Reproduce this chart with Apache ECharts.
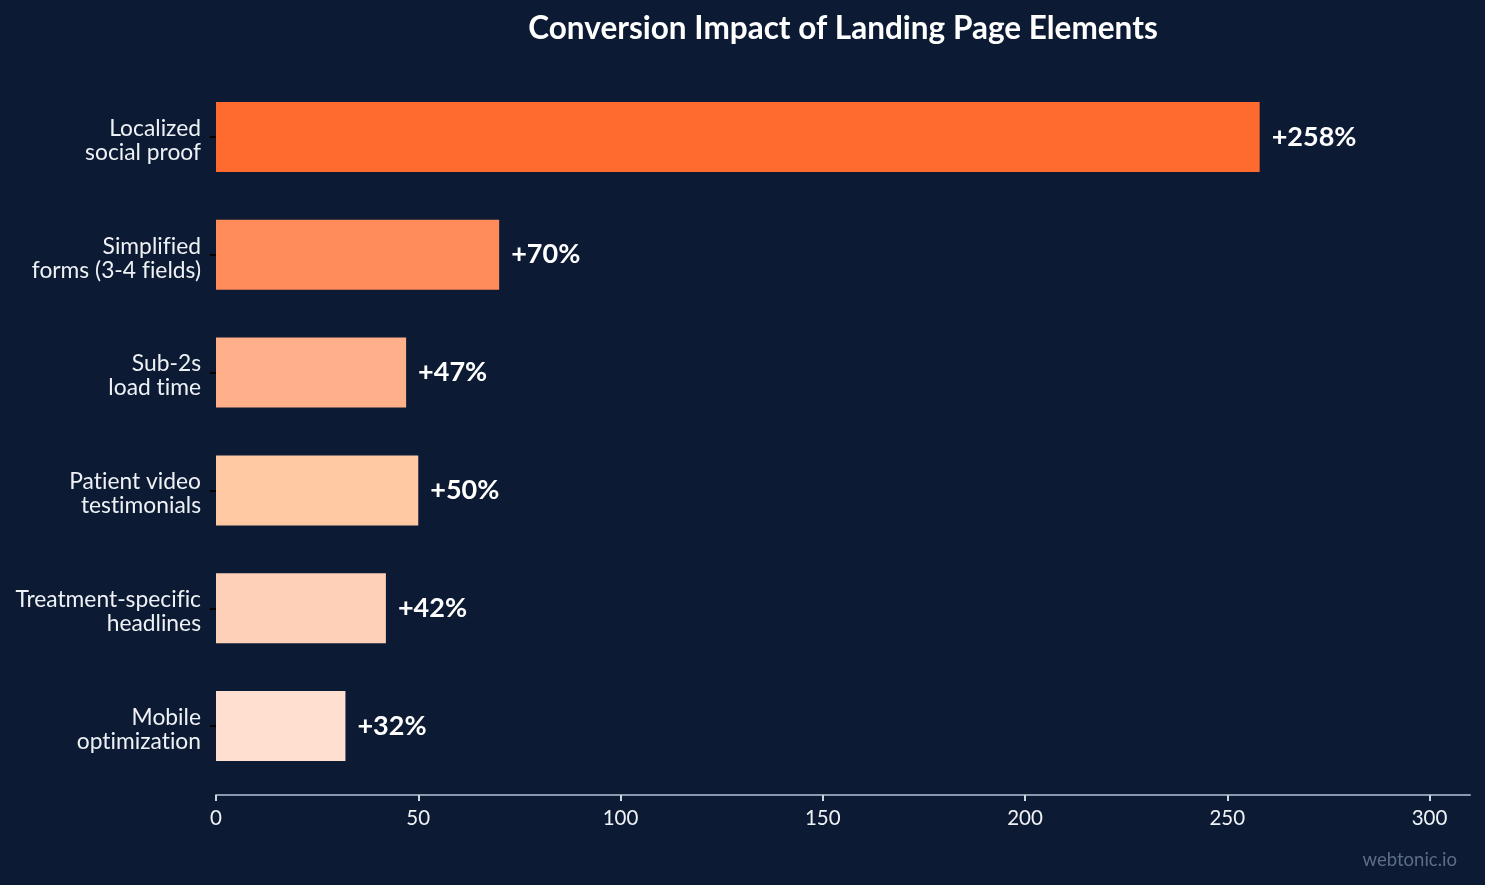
<!DOCTYPE html>
<html>
<head>
<meta charset="utf-8">
<script src="https://cdn.jsdelivr.net/npm/echarts@6/dist/echarts.min.js"></script>
<style>
html,body{margin:0;padding:0;background:#0c1b33;}
#chart{width:1485px;height:885px;}
</style>
</head>
<body>
<div id="chart"></div>
<script>
const categories = ["Localized\nsocial proof", "Simplified\nforms (3-4 fields)", "Sub-2s\nload time", "Patient video\ntestimonials", "Treatment-specific\nheadlines", "Mobile\noptimization"];
const values = [258, 70, 47, 50, 42, 32];
const barColors = ["#FF6B2F", "#FF8C5A", "#FFB08A", "#FFC9A3", "#FFD0B8", "#FFDFD0"];
const xTicks = [0, 50, 100, 150, 200, 250, 300];

// break ligatures (fi, ti ...) with zero-width non-joiner
const noLig = s => s.replace(/([ft])(?=[a-z])/g, '$1\u200C');
const catLabel = v => {
  const parts = noLig(v).split('\n');
  return '{a|' + parts[0] + '}\n{b|' + parts[1] + '}';
};
const labelFont = { color: '#eef1f5', fontSize: 22.8, fontFamily: 'Lato', align: 'right' };

const chart = echarts.init(document.getElementById('chart'));
chart.setOption({
  backgroundColor: '#0c1b33',
  animation: false,
  textStyle: { fontFamily: 'Lato' },
  title: {
    text: 'Conversion Impact of Landing Page Elements',
    left: 838, top: 8, textAlign: 'center',
    textStyle: { color: '#ffffff', fontSize: 31.5, fontWeight: 'bold', fontFamily: 'Lato' }
  },
  graphic: [{
    type: 'text', right: 28, top: 851,
    style: { text: 'webtonic.io', fill: '#5d6d86', fontSize: 18.5, fontFamily: 'Lato' }
  }],
  grid: { left: 216, right: 15, top: 78, bottom: 100 },
  xAxis: {
    type: 'value', min: 0, max: 310, interval: 50, offset: 10,
    axisLine: { show: true, lineStyle: { color: '#8a99ae', width: 2 } },
    axisTick: { show: true, length: 6, lineStyle: { color: '#cfd6e0', width: 2 }, customValues: xTicks },
    axisLabel: { color: '#eef1f5', fontSize: 20.5, margin: 13, customValues: xTicks },
    splitLine: { show: false }
  },
  yAxis: {
    type: 'category', data: categories, inverse: true,
    axisLine: { show: false },
    axisTick: { show: true, alignWithLabel: true, length: 6, lineStyle: { color: '#000000', width: 2 } },
    axisLabel: {
      color: '#eef1f5', fontSize: 22.8, margin: 15, align: 'right',
      formatter: catLabel,
      rich: {
        a: Object.assign({ lineHeight: 31 }, labelFont),
        b: Object.assign({ lineHeight: 17 }, labelFont)
      }
    }
  },
  series: [{
    type: 'bar', barWidth: 70,
    data: values.map((v, i) => ({ value: v, itemStyle: { color: barColors[i] } })),
    label: {
      show: true, position: 'right', distance: 12,
      formatter: p => '+' + p.value + '%',
      color: '#ffffff', fontSize: 27, fontWeight: 'bold', fontFamily: 'Lato'
    }
  }]
});
</script>
</body>
</html>
